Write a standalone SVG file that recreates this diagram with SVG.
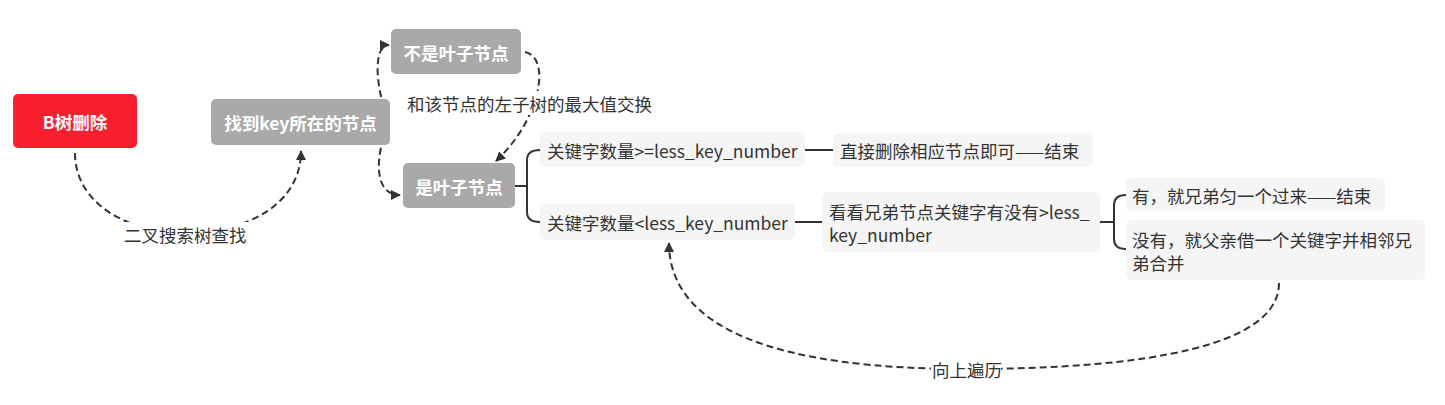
<svg xmlns="http://www.w3.org/2000/svg" width="1445" height="405" viewBox="0 0 1445 405">
<style>
.t{font-family:"Noto Sans CJK SC","Noto Sans",sans-serif;font-size:17.5px;fill:#333;dominant-baseline:central}
.b{font-family:"Noto Sans CJK SC","Noto Sans",sans-serif;font-size:17.5px;font-weight:bold;fill:#fff;text-anchor:middle;dominant-baseline:central}
.gray{fill:#a9a9a9}
.light{fill:#f5f5f5}
.dash{fill:none;stroke:#333;stroke-width:2;stroke-dasharray:7 4}
.solid{fill:none;stroke:#333;stroke-width:2}
.lbl{fill:#fff}
</style>
<defs>
<marker id="ah" viewBox="0 0 10 10" refX="9" refY="5" markerWidth="5" markerHeight="5" orient="auto" markerUnits="strokeWidth">
<path d="M0,0 L10,5 L0,10 z" fill="#333"/>
</marker>
</defs>
<rect width="1445" height="405" fill="#fff"/>
<g id="connectors">
<path class="dash" d="M75,153 C75,205 130,233 186,233 C245,233 301,205 301,151" marker-end="url(#ah)"/>
<path class="dash" d="M388,118 C376,90 372,45 389,45" marker-end="url(#ah)"/>
<path class="dash" d="M388,127 C376,152 372,195 400,195" marker-end="url(#ah)"/>
<path class="dash" d="M525,52 C552,58 540,120 496,161" marker-end="url(#ah)"/>
<path class="dash" d="M1279,283 C1279,345 1150,369 966,369 C780,369 669,330 669,243" marker-end="url(#ah)"/>
<path class="solid" d="M514,186 L527,186 M540,150 Q527,150 527,160 L527,212 Q527,222 540,222"/>
<path class="solid" d="M805,150 L833,150"/>
<path class="solid" d="M795,222 L822,222"/>
<path class="solid" d="M1100,222 L1114,222 M1126,195 Q1114,195 1114,205 L1114,239 Q1114,249 1126,249"/>
<rect class="lbl" x="122" y="222" width="128" height="24"/>
<text class="t" x="124" y="234">二叉搜索树查找</text>
<rect class="lbl" x="405" y="91" width="256" height="24"/>
<text class="t" x="407" y="103">和该节点的左子树的最大值交换</text>
<rect class="lbl" x="931" y="357" width="70" height="24"/>
<text class="t" x="932" y="369">向上遍历</text>
</g>
<g id="n-root">
<rect x="13" y="94" width="124" height="54" rx="5" fill="#fa1f2f"/>
<text class="b" x="75" y="121">B树删除</text>
</g>
<g id="n-find">
<rect class="gray" x="211" y="99" width="179" height="46" rx="5"/>
<text class="b" x="300.5" y="122">找到key所在的节点</text>
</g>
<g id="n-notleaf">
<rect class="gray" x="391" y="29" width="130" height="45" rx="5"/>
<text class="b" x="456" y="52">不是叶子节点</text>
</g>
<g id="n-leaf">
<rect class="gray" x="403" y="163" width="112" height="45" rx="5"/>
<text class="b" x="459" y="186">是叶子节点</text>
</g>
<g id="n-ge">
<rect class="light" x="540" y="132" width="265" height="35" rx="5"/>
<text class="t" x="547" y="150">关键字数量&gt;=less_key_number</text>
</g>
<g id="n-direct">
<rect class="light" x="833" y="133" width="260" height="34" rx="5"/>
<text class="t" x="840" y="150">直接删除相应节点即可——结束</text>
</g>
<g id="n-lt">
<rect class="light" x="540" y="204" width="255" height="36" rx="5"/>
<text class="t" x="547" y="222">关键字数量&lt;less_key_number</text>
</g>
<g id="n-check">
<rect class="light" x="822" y="192" width="278" height="60" rx="5"/>
<text class="t" x="829" y="211">看看兄弟节点关键字有没有&gt;less_</text>
<text class="t" x="829" y="234">key_number</text>
</g>
<g id="n-yes">
<rect class="light" x="1126" y="178" width="259" height="33" rx="5"/>
<text class="t" x="1132" y="195">有，就兄弟匀一个过来——结束</text>
</g>
<g id="n-no">
<rect class="light" x="1126" y="220" width="299" height="60" rx="5"/>
<text class="t" x="1132" y="239">没有，就父亲借一个关键字并相邻兄</text>
<text class="t" x="1132" y="262">弟合并</text>
</g>
</svg>
